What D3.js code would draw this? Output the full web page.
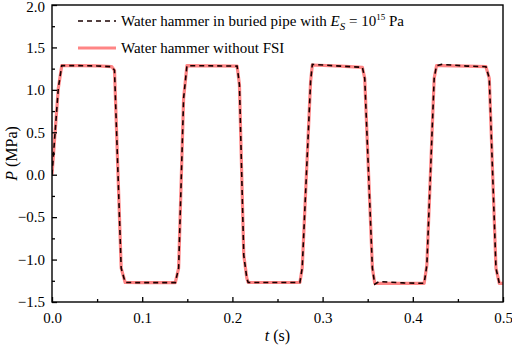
<!DOCTYPE html>
<html>
<head>
<meta charset="utf-8">
<script src="https://cdn.jsdelivr.net/npm/d3@7"></script>
<style>
  body { margin: 0; background: #fff; }
  text { font-family: "Liberation Serif", "Times New Roman", serif; }
</style>
</head>
<body>
<div id="chart"></div>
<script>
// data
var timeS = [0.000, 0.007, 0.0108, 0.030, 0.050, 0.0663, 0.0693, 0.0767, 0.0811, 0.100, 0.1367,
  0.1404, 0.1459, 0.1496, 0.180, 0.2052, 0.2078, 0.2126, 0.2160, 0.2175, 0.250, 0.2748,
  0.2774, 0.2867, 0.2886, 0.320, 0.3441, 0.3467, 0.3552, 0.3578, 0.3625, 0.390, 0.4126,
  0.4156, 0.4237, 0.4263, 0.4320, 0.460, 0.4811, 0.4848, 0.4922, 0.4959, 0.500];
var pressBuried = [0.00, 1.02, 1.285, 1.285, 1.282, 1.273, 1.23, -1.10, -1.27, -1.272, -1.272,
  -1.10, 0.90, 1.285, 1.283, 1.28, 1.06, -0.95, -1.22, -1.27, -1.27, -1.27,
  -1.10, 1.10, 1.30, 1.28, 1.266, 1.136, -1.10, -1.29, -1.26, -1.275, -1.28,
  -1.064, 1.136, 1.285, 1.30, 1.28, 1.273, 1.136, -1.10, -1.28, -1.28];
var pressNoFSI = [0.00, 1.02, 1.285, 1.285, 1.282, 1.273, 1.23, -1.10, -1.27, -1.272, -1.272,
  -1.10, 0.90, 1.285, 1.283, 1.28, 1.06, -0.95, -1.22, -1.27, -1.27, -1.27,
  -1.10, 1.10, 1.293, 1.28, 1.266, 1.136, -1.10, -1.28, -1.28, -1.28, -1.28,
  -1.064, 1.136, 1.285, 1.285, 1.28, 1.273, 1.136, -1.10, -1.28, -1.28];
var xTicks = [0.0, 0.1, 0.2, 0.3, 0.4, 0.5];
var yTicks = [-1.5, -1.0, -0.5, 0.0, 0.5, 1.0, 1.5, 2.0];

var W = 512, H = 347;
var margin = {left: 52, right: 9, top: 5, bottom: 45};

var svg = d3.select("#chart").append("svg")
  .attr("width", W).attr("height", H);

var x = d3.scaleLinear().domain([0, 0.5]).range([margin.left, W - margin.right]);
var y = d3.scaleLinear().domain([-1.5, 2.0]).range([H - margin.bottom, margin.top]);

// clip so the curves stay inside the frame
svg.append("clipPath").attr("id", "clip")
  .append("rect")
  .attr("x", x(0)).attr("y", y(2))
  .attr("width", x(0.5) - x(0)).attr("height", y(-1.5) - y(2));

var ptsBuried = timeS.map(function(t, i) { return [t, pressBuried[i]]; });
var ptsNoFSI = timeS.map(function(t, i) { return [t, pressNoFSI[i]]; });

var line = d3.line()
  .x(function(d) { return x(d[0]); })
  .y(function(d) { return y(d[1]); });

var plot = svg.append("g").attr("clip-path", "url(#clip)");

plot.append("path")
  .datum(ptsNoFSI)
  .attr("fill", "none")
  .attr("stroke", "#ff8585")
  .attr("stroke-width", 3.2)
  .attr("stroke-linejoin", "round")
  .attr("d", line);

plot.append("path")
  .datum(ptsBuried)
  .attr("fill", "none")
  .attr("stroke", "#1a0000")
  .attr("stroke-width", 1.6)
  .attr("stroke-dasharray", "5,4")
  .attr("d", line);

// axes, ticks inward
var xAxis = d3.axisBottom(x).tickValues(xTicks).tickFormat(d3.format(".1f"))
  .tickSizeInner(-5).tickSizeOuter(0).tickPadding(10);
var yAxis = d3.axisLeft(y).tickValues(yTicks).tickFormat(d3.format(".1f"))
  .tickSizeInner(-5).tickSizeOuter(0).tickPadding(7);

var gx = svg.append("g")
  .attr("transform", "translate(0," + y(-1.5) + ")")
  .call(xAxis);
var gy = svg.append("g")
  .attr("transform", "translate(" + x(0) + ",0)")
  .call(yAxis);

// minor ticks
var xMinor = d3.axisBottom(x).tickValues([0.05, 0.15, 0.25, 0.35, 0.45])
  .tickSizeInner(-3).tickSizeOuter(0).tickFormat("");
var yMinor = d3.axisLeft(y).tickValues([-1.25, -0.75, -0.25, 0.25, 0.75, 1.25, 1.75])
  .tickSizeInner(-3).tickSizeOuter(0).tickFormat("");
svg.append("g").attr("transform", "translate(0," + y(-1.5) + ")").call(xMinor);
svg.append("g").attr("transform", "translate(" + x(0) + ",0)").call(yMinor);

svg.selectAll(".tick line").attr("stroke", "#000").attr("stroke-width", 1.3);
svg.selectAll(".domain").remove();
svg.selectAll(".tick text")
  .attr("fill", "#000")
  .style("font-size", "15px")
  .style("font-family", "'Liberation Serif', serif");
// keep the top label inside the page
gy.selectAll(".tick text").filter(function(d) { return d === 2; }).attr("dy", "0.45em");

// frame
svg.append("rect")
  .attr("x", x(0)).attr("y", y(2))
  .attr("width", x(0.5) - x(0)).attr("height", y(-1.5) - y(2))
  .attr("fill", "none").attr("stroke", "#000").attr("stroke-width", 1.4);

// axis titles
var xt = svg.append("text")
  .attr("x", (x(0) + x(0.5)) / 2).attr("y", 341)
  .attr("text-anchor", "middle").style("font-size", "16px");
xt.append("tspan").style("font-style", "italic").text("t");
xt.append("tspan").text(" (s)");

var yt = svg.append("text")
  .attr("transform", "translate(17," + ((y(2) + y(-1.5)) / 2) + ") rotate(-90)")
  .attr("text-anchor", "middle").style("font-size", "16px");
yt.append("tspan").style("font-style", "italic").text("P");
yt.append("tspan").text(" (MPa)");

// legend
var lg = svg.append("g");
lg.append("line").attr("x1", 78).attr("x2", 116).attr("y1", 21).attr("y2", 21)
  .attr("stroke", "#1a0000").attr("stroke-width", 1.6).attr("stroke-dasharray", "5,4");
lg.append("line").attr("x1", 78).attr("x2", 116).attr("y1", 48).attr("y2", 48)
  .attr("stroke", "#ff8585").attr("stroke-width", 3.2);

var l1 = lg.append("text").attr("x", 121).attr("y", 26).style("font-size", "15px");
l1.append("tspan").text("Water hammer in buried pipe with ");
l1.append("tspan").style("font-style", "italic").text("E");
l1.append("tspan").style("font-style", "italic").style("font-size", "11px").attr("dy", 4).text("S");
l1.append("tspan").attr("dy", -4).text(" = 10");
l1.append("tspan").style("font-size", "9px").attr("dy", -6).text("15");
l1.append("tspan").attr("dy", 6).text(" Pa");

lg.append("text").attr("x", 121).attr("y", 53).style("font-size", "15px")
  .text("Water hammer without FSI");
</script>
</body>
</html>
